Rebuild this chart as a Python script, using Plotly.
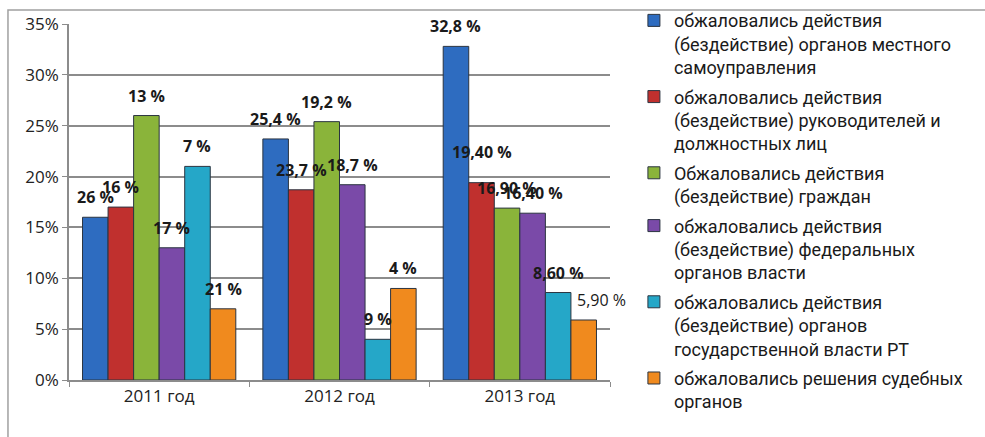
import plotly.graph_objects as go

categories = ["2011 год", "2012 год", "2013 год"]

series_names = [
    "обжаловались действия<br>(бездействие) органов местного<br>самоуправления",
    "обжаловались действия<br>(бездействие) руководителей и<br>должностных лиц",
    "Обжаловались действия<br>(бездействие) граждан",
    "обжаловались действия<br>(бездействие) федеральных<br>органов власти",
    "обжаловались действия<br>(бездействие) органов<br>государственной власти РТ",
    "обжаловались решения судебных<br>органов",
]

local_gov = [16, 23.7, 32.8]
officials = [17, 18.7, 19.4]
citizens = [26, 25.4, 16.9]
federal = [13, 19.2, 16.4]
rt_gov = [21, 4, 8.6]
courts = [7, 9, 5.9]
values = [local_gov, officials, citizens, federal, rt_gov, courts]

# data labels as printed in the original chart
labels_local_gov = ["26 %", "25,4 %", "32,8 %"]
labels_officials = ["16 %", "23,7 %", "19,40 %"]
labels_citizens = ["13 %", "19,2 %", "16,90 %"]
labels_federal = ["17 %", "18,7 %", "16,40 %"]
labels_rt_gov = ["7 %", "9 %", "8,60 %"]
labels_courts = ["21 %", "4 %", "5,90 %"]
labels = [labels_local_gov, labels_officials, labels_citizens,
          labels_federal, labels_rt_gov, labels_courts]

colors = ["#2e6cc0", "#c0302e", "#8ab43a", "#7a4aa8", "#25a7c8", "#f08a1e"]

fig = go.Figure()
for k, (name, vals, col) in enumerate(zip(series_names, values, colors)):
    fig.add_trace(go.Bar(
        x=categories, y=vals, name=name, legendgroup=f"g{k}",
        marker=dict(color=col, line=dict(color="#2b3440", width=1)),
        hoverinfo="skip",
    ))

bargap = 0.15
n = len(values)
w = (1 - bargap) / n
annotations = []
for j, (vals, labs) in enumerate(zip(values, labels)):
    for i, (v, lab) in enumerate(zip(vals, labs)):
        xc = i + (j - (n - 1) / 2) * w
        bold = not (j == 5 and i == 2)
        xshift = 18 if (j == 5 and i == 2) else 0
        yshift = 31 if (j == 1 and i == 2) else 20
        annotations.append(dict(
            x=xc, y=v, xref="x", yref="y", text=lab, showarrow=False,
            yshift=yshift, xshift=xshift,
            font=dict(family="Open Sans, Noto Sans, sans-serif", size=16,
                      color="#1a1a1a", weight=700 if bold else 400),
        ))

fig.update_layout(
    width=985, height=437,
    margin=dict(l=69, r=375, t=24, b=57, autoexpand=False),
    paper_bgcolor="white", plot_bgcolor="white",
    barmode="group", bargap=bargap, bargroupgap=0,
    font=dict(family="Open Sans, Noto Sans, sans-serif", color="#222"),
    showlegend=True,
    legend=dict(
        xref="paper", x=1.0442, xanchor="left",
        yref="container", y=0.995, yanchor="top",
        font=dict(family="Roboto, Open Sans, sans-serif", size=18, color="#1a1a1a"),
        valign="top", tracegroupgap=3, itemwidth=30,
        bgcolor="rgba(0,0,0,0)", maxheight=1.0,
    ),
    annotations=annotations,
    shapes=[dict(type="rect", xref="paper", yref="paper",
                 x0=-0.1128, x1=1.8, y0=-0.3, y1=1.039,
                 line=dict(color="#a0a0a0", width=1.5))],
)

fig.update_yaxes(
    range=[0, 35], dtick=5, tickformat=".0f", ticksuffix="%", automargin=False,
    showgrid=True, gridcolor="#8c8c8c", gridwidth=1.5,
    showline=True, linecolor="#8c8c8c", linewidth=1.5,
    ticks="outside", ticklen=5, tickcolor="#8c8c8c",
    tickfont=dict(size=17, color="#222"), zeroline=False,
)
fig.update_xaxes(
    range=[-0.5, len(categories) - 0.5], automargin=False,
    showline=True, linecolor="#8c8c8c", linewidth=1.5,
    ticks="outside", tickson="boundaries", ticklen=5, tickcolor="#8c8c8c",
    tickfont=dict(size=17, color="#222"),
)

fig.write_html(
    "out.html",
    config={"displayModeBar": False},
    post_script="document.body.style.margin='0';document.documentElement.style.overflow='hidden';",
)
